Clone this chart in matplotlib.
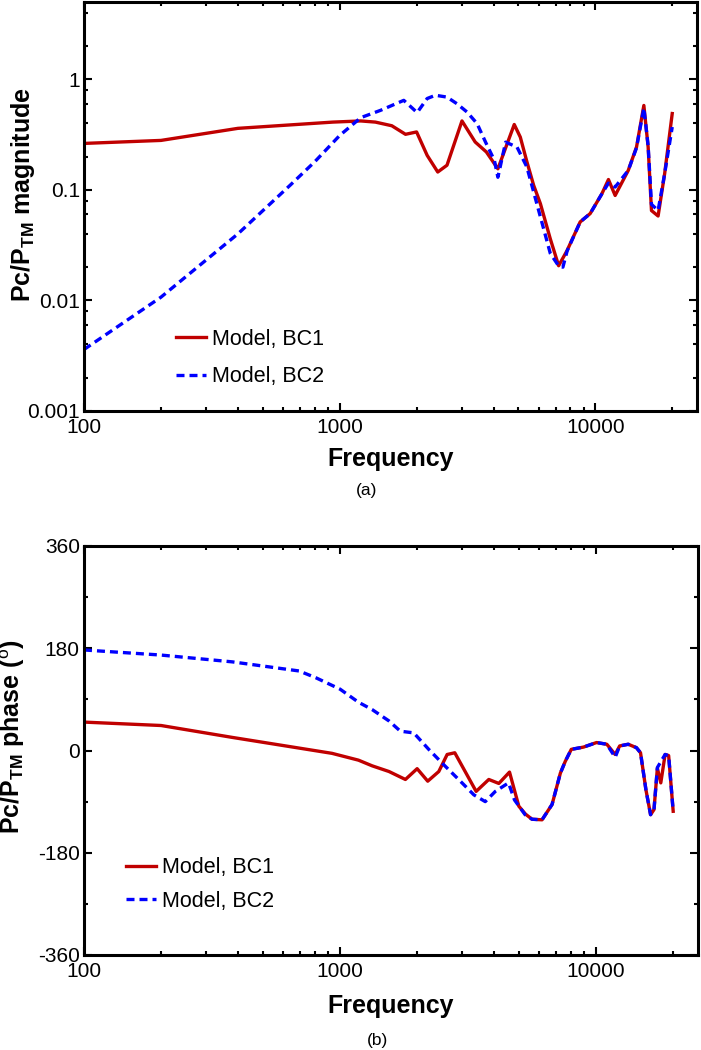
import matplotlib
matplotlib.use('Agg')
import matplotlib.pyplot as plt
from matplotlib.ticker import FixedLocator, FixedFormatter, LogLocator, MultipleLocator, NullFormatter

plt.rcParams['font.family'] = ['Liberation Sans', 'DejaVu Sans']
plt.rcParams['mathtext.fontset'] = 'custom'
plt.rcParams['mathtext.rm'] = 'Liberation Sans'
plt.rcParams['mathtext.bf'] = 'Liberation Sans:bold'

# (a) magnitude
freq_mag_bc1 = [100, 200, 400, 940, 1210, 1380, 1600, 1810, 2000, 2200, 2420, 2630, 3010, 3390, 3750,
                4160, 4820, 5090, 5400, 5740, 6100, 6670, 7190, 7760, 8730, 9550, 10610, 11260, 11960,
                13460, 14500, 15490, 16100, 16590, 17610, 18680, 20000]
mag_bc1 = [0.263, 0.28, 0.36, 0.41, 0.42, 0.41, 0.38, 0.318, 0.334, 0.205, 0.145, 0.167, 0.42, 0.271, 0.22,
           0.155, 0.39, 0.30, 0.18, 0.11, 0.075, 0.036, 0.0206, 0.0283, 0.0513, 0.061, 0.092, 0.124, 0.089,
           0.15, 0.244, 0.58, 0.244, 0.065, 0.058, 0.14, 0.49]

freq_mag_bc2 = [100, 200, 400, 640, 800, 1000, 1210, 1446, 1782, 2010, 2200, 2370, 2630, 2880, 3150, 3450,
                3720, 4030, 4160, 4460, 4940, 5400, 6100, 6670, 7190, 7470, 7760, 8730, 9550, 10610, 11260,
                11960, 13460, 14500, 15490, 16100, 16590, 17610, 18680, 20000]
mag_bc2 = [0.0036, 0.0107, 0.040, 0.11, 0.18, 0.31, 0.45, 0.524, 0.645, 0.50, 0.67, 0.717, 0.69, 0.60, 0.506, 0.397,
           0.271, 0.185, 0.13, 0.27, 0.244, 0.161, 0.057, 0.0266, 0.0205, 0.020, 0.028, 0.0513, 0.061, 0.092, 0.115,
           0.106, 0.15, 0.24, 0.55, 0.25, 0.074, 0.065, 0.14, 0.37]

# (b) phase, degrees
freq_ph_bc1 = [100, 200, 380, 930, 1180, 1335, 1553, 1800, 2000, 2200, 2430, 2620, 2806, 3400, 3810, 4170,
               4590, 4990, 5300, 5620, 6150, 6730, 7250, 7580, 8000, 8930, 10040, 11010, 11870, 12360, 13350,
               14370, 14910, 15650, 16320, 16830, 17350, 17890, 18600, 19200, 20000]
ph_bc1 = [50, 44, 23, -5, -17, -27, -37, -51, -32, -54, -37, -7, -4, -72, -51, -58,
          -38, -98, -112, -121, -122, -95, -40, -19, 2, 6, 14, 11, -7, 8, 11,
          5, -4, -69, -113, -104, -31, -57, -7, -9, -107]

freq_ph_bc2 = [100, 200, 380, 692, 805, 1000, 1180, 1335, 1553, 1720, 1940, 2220, 2540, 2950, 3330, 3690,
               4040, 4550, 4800, 5280, 5620, 6150, 6730, 7250, 7580, 8000, 8930, 10040, 11010, 11870, 12360,
               13350, 14370, 14910, 15650, 16320, 16830, 17350, 18600, 19200, 20000]
ph_bc2 = [177, 168, 156, 140, 128, 108, 85, 72, 52, 34, 31, 2, -25, -54, -78, -90,
          -72, -57, -87, -113, -121, -122, -95, -40, -19, 2, 6, 14, 11, -12, 8,
          11, 5, -4, -69, -113, -104, -30, -7, -9, -107]

x_ticks = [100, 1000, 10000]
x_labels = ['100', '1000', '10000']
mag_ticks = [0.001, 0.01, 0.1, 1]
mag_labels = ['0.001', '0.01', '0.1', '1']
ph_ticks = [-360, -180, 0, 180, 360]
ph_labels = ['-360', '-180', '0', '180', '360']
series_labels = ['Model, BC1', 'Model, BC2']

red, blue = '#c00000', '#0000ff'
lw = 2.4


def style_axes(ax):
    for sp in ax.spines.values():
        sp.set_linewidth(2.2)
    ax.set_xscale('log')
    ax.set_xlim(100, 25000)
    ax.xaxis.set_major_locator(FixedLocator(x_ticks))
    ax.xaxis.set_major_formatter(FixedFormatter(x_labels))
    ax.xaxis.set_minor_locator(LogLocator(base=10, subs=range(2, 10)))
    ax.xaxis.set_minor_formatter(NullFormatter())
    ax.tick_params(which='both', direction='in', top=True, right=True, width=1.5, labelsize=15)
    ax.tick_params(which='major', length=5.5)
    ax.tick_params(which='minor', length=3)
    ax.tick_params(axis='x', pad=5)
    ax.tick_params(axis='y', pad=3)


fig = plt.figure(figsize=(7.01, 10.5), dpi=100)

# top: magnitude
ax1 = fig.add_axes([84/701, 1-411/1050, 613/701, 409/1050])
l1, = ax1.plot(freq_mag_bc1, mag_bc1, color=red, lw=lw)
l2, = ax1.plot(freq_mag_bc2, mag_bc2, color=blue, lw=lw, dashes=(2.4, 1.5))
style_axes(ax1)
ax1.set_yscale('log')
ax1.set_ylim(0.001, 5)
ax1.yaxis.set_major_locator(FixedLocator(mag_ticks))
ax1.yaxis.set_major_formatter(FixedFormatter(mag_labels))
ax1.yaxis.set_minor_locator(LogLocator(base=10, subs=[2, 4, 6, 8]))
ax1.yaxis.set_minor_formatter(NullFormatter())
ax1.set_xlabel('Frequency', fontsize=18, fontweight='bold')
ax1.xaxis.set_label_coords(0.5, -0.088)
ax1.set_ylabel(r'Pc/P$_{\mathbf{TM}}$ magnitude', fontsize=18, fontweight='bold')
ax1.yaxis.set_label_coords(-0.077, 0.53)
ax1.legend([l1, l2], series_labels, loc='center left', bbox_to_anchor=((176-84)/613, (411-358)/409),
           frameon=False, fontsize=15.5, borderpad=0, borderaxespad=0, handlelength=1.4,
           handletextpad=0.25, labelspacing=0.75)
fig.text(367/701, 1-490/1050, '(a)', ha='center', va='center', fontsize=12.5)

# bottom: phase
ax2 = fig.add_axes([84/701, 1-955/1050, 614/701, 409/1050])
l3, = ax2.plot(freq_ph_bc1, ph_bc1, color=red, lw=lw)
l4, = ax2.plot(freq_ph_bc2, ph_bc2, color=blue, lw=lw, dashes=(2.4, 1.5))
style_axes(ax2)
ax2.set_ylim(-360, 360)
ax2.yaxis.set_major_locator(FixedLocator(ph_ticks))
ax2.yaxis.set_major_formatter(FixedFormatter(ph_labels))
ax2.yaxis.set_minor_locator(MultipleLocator(90))
ax2.set_xlabel('Frequency', fontsize=18, fontweight='bold')
ax2.xaxis.set_label_coords(0.5, -0.095)
ax2.set_ylabel(r'Pc/P$_{\mathbf{TM}}$ phase ($^{\mathrm{o}}$)', fontsize=18, fontweight='bold')
ax2.yaxis.set_label_coords(-0.093, 0.533)
ax2.legend([l3, l4], series_labels, loc='center left', bbox_to_anchor=((126-84)/614, (955-884.5)/409),
           frameon=False, fontsize=15.5, borderpad=0, borderaxespad=0, handlelength=1.4,
           handletextpad=0.25, labelspacing=0.6)
fig.text(378/701, 1-1040/1050, '(b)', ha='center', va='center', fontsize=12.5)

plt.savefig('out.png', dpi=100)
plt.close()
